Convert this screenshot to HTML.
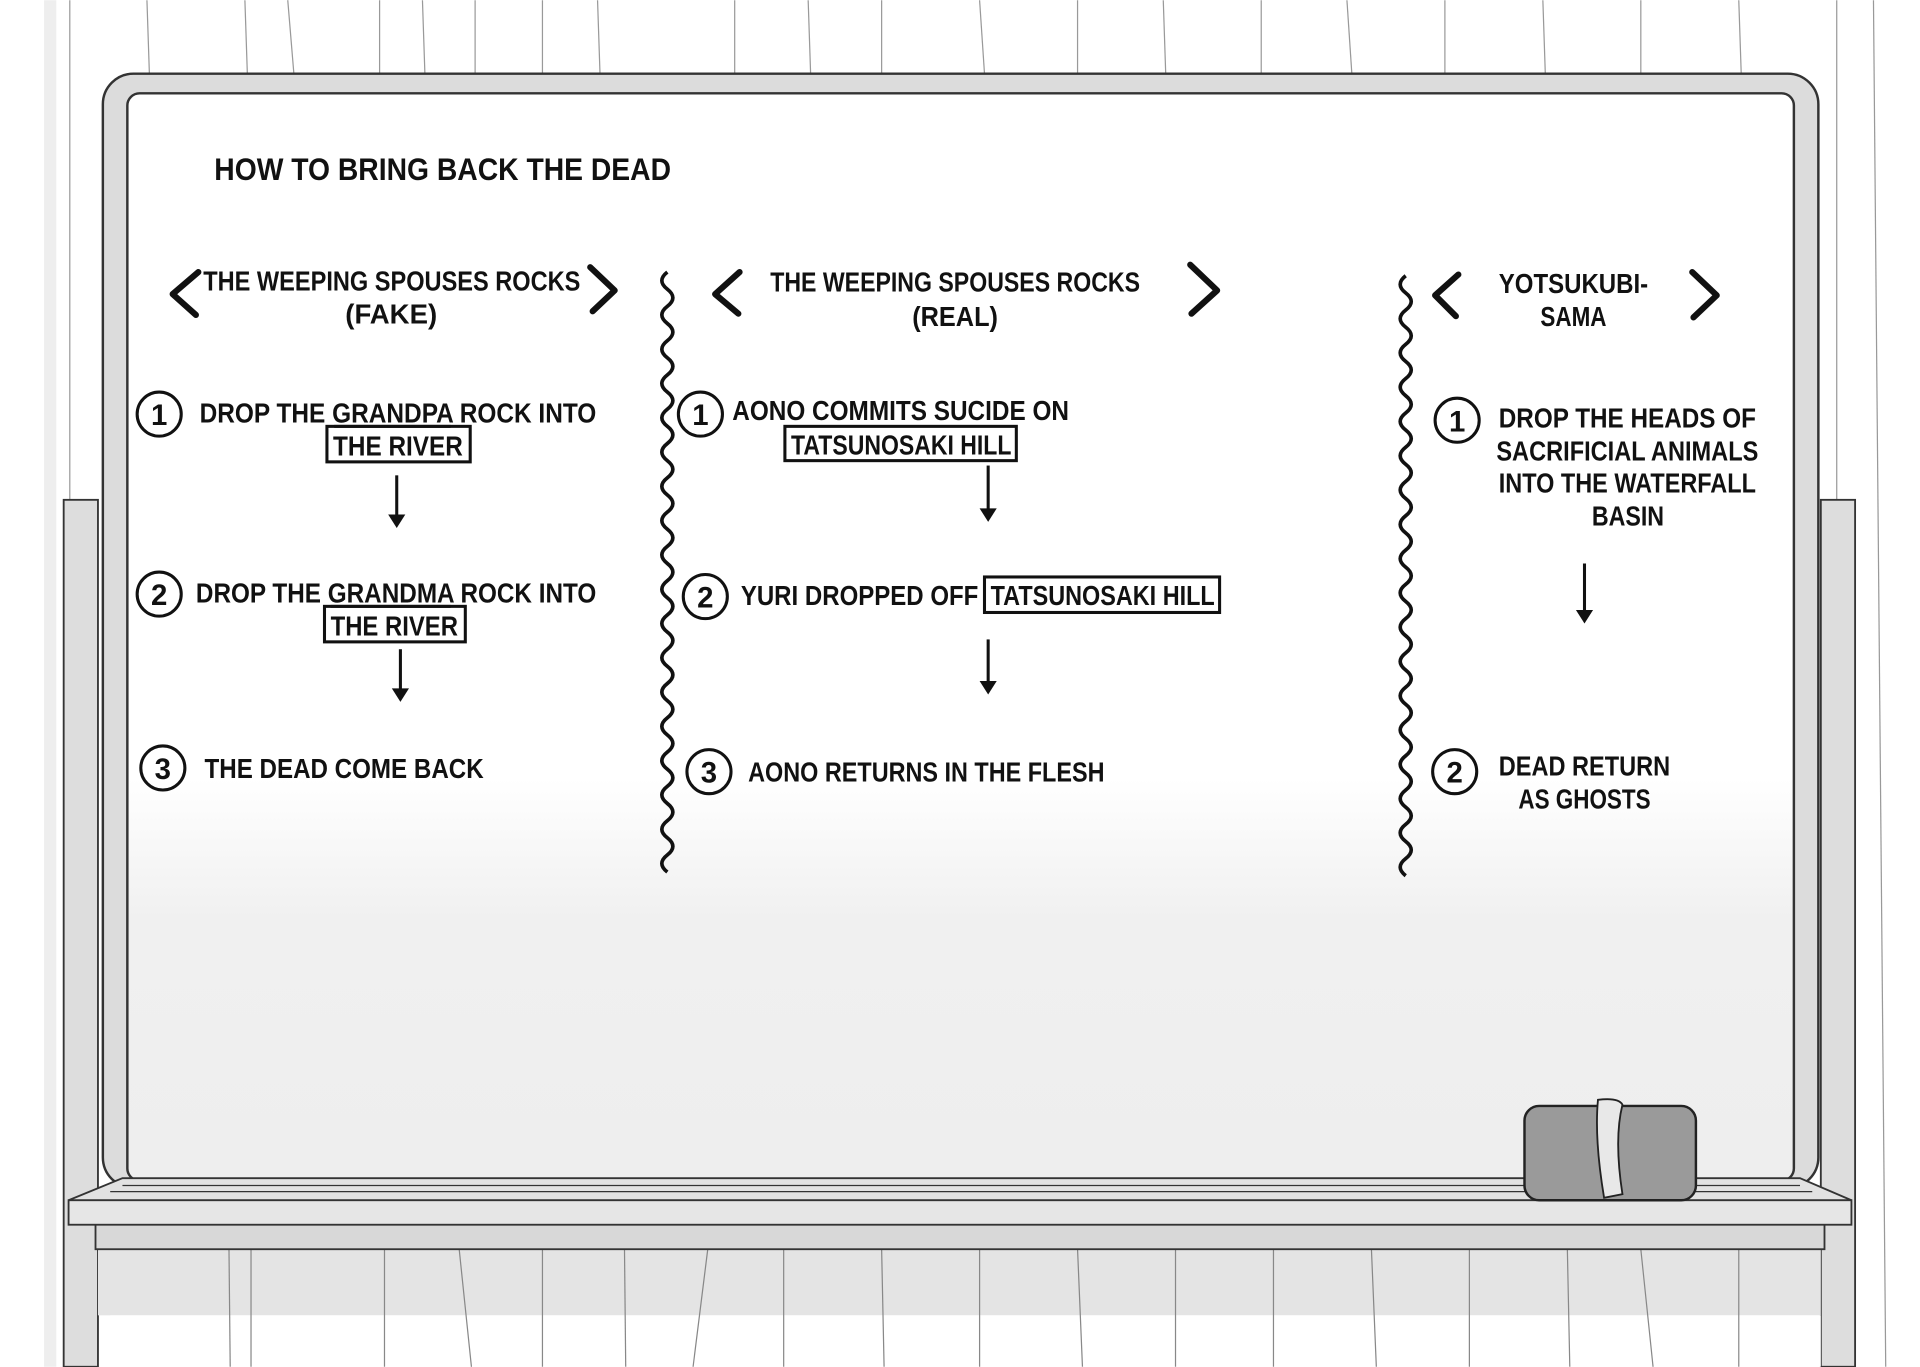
<!DOCTYPE html>
<html><head><meta charset="utf-8"><style>
html,body{margin:0;padding:0;background:#fff;}
svg{display:block;}
text{font-family:"Liberation Sans Narrow","Liberation Sans",sans-serif;font-weight:bold;fill:#111;}
</style></head><body>
<svg width="1920" height="1367" viewBox="0 0 1568 1116" xmlns="http://www.w3.org/2000/svg">
<defs>
<linearGradient id="fog" x1="0" y1="0" x2="0" y2="1">
<stop offset="0" stop-color="#ffffff"/>
<stop offset="0.63" stop-color="#ffffff"/>
<stop offset="0.76" stop-color="#f0f0f0"/>
<stop offset="1" stop-color="#eeeeee"/>
</linearGradient>
</defs>
<rect width="1568" height="1116" fill="#fff"/>
<g stroke="#999" stroke-width="1">
<line x1="57" y1="0" x2="57" y2="408"/><line x1="120" y1="0" x2="122" y2="60"/><line x1="200" y1="0" x2="202" y2="60"/>
<line x1="235" y1="0" x2="240" y2="60"/><line x1="310" y1="0" x2="310" y2="60"/><line x1="345" y1="0" x2="347" y2="60"/>
<line x1="388" y1="0" x2="388" y2="60"/><line x1="443" y1="0" x2="443" y2="60"/><line x1="488" y1="0" x2="490" y2="60"/>
<line x1="600" y1="0" x2="600" y2="60"/><line x1="660" y1="0" x2="662" y2="60"/><line x1="720" y1="0" x2="720" y2="60"/>
<line x1="800" y1="0" x2="804" y2="60"/><line x1="880" y1="0" x2="880" y2="60"/><line x1="950" y1="0" x2="952" y2="60"/>
<line x1="1030" y1="0" x2="1030" y2="60"/><line x1="1100" y1="0" x2="1104" y2="60"/><line x1="1180" y1="0" x2="1180" y2="60"/>
<line x1="1260" y1="0" x2="1262" y2="60"/><line x1="1340" y1="0" x2="1340" y2="60"/><line x1="1420" y1="0" x2="1422" y2="60"/>
<line x1="1500" y1="0" x2="1500" y2="408"/><line x1="1530" y1="0" x2="1540" y2="1116"/>
</g>
<rect x="36" y="0" width="10" height="1116" fill="#eee"/>
<rect x="52" y="408" width="28" height="708" fill="#ddd" stroke="#333" stroke-width="1.5"/>
<rect x="1487" y="408" width="28" height="708" fill="#ddd" stroke="#333" stroke-width="1.5"/>
<rect x="84" y="60" width="1401" height="910" rx="25" fill="#dcdcdc" stroke="#333" stroke-width="2"/>
<rect x="104" y="76" width="1361" height="888" rx="10" fill="url(#fog)" stroke="#333" stroke-width="2"/>
<rect x="80" y="1000" width="1407" height="74" fill="#e4e4e4"/>
<rect x="90" y="1074" width="1397" height="42" fill="#fff"/>
<g stroke="#888" stroke-width="1">
<line x1="187" y1="1020" x2="188" y2="1116"/><line x1="205" y1="1020" x2="205" y2="1116"/><line x1="314" y1="1020" x2="314" y2="1116"/>
<line x1="375" y1="1020" x2="385" y2="1116"/><line x1="443" y1="1020" x2="443" y2="1116"/><line x1="510" y1="1020" x2="511" y2="1116"/>
<line x1="578" y1="1020" x2="566" y2="1116"/><line x1="640" y1="1020" x2="640" y2="1116"/><line x1="720" y1="1020" x2="722" y2="1116"/>
<line x1="800" y1="1020" x2="800" y2="1116"/><line x1="880" y1="1020" x2="884" y2="1116"/><line x1="960" y1="1020" x2="960" y2="1116"/>
<line x1="1040" y1="1020" x2="1040" y2="1116"/><line x1="1120" y1="1020" x2="1124" y2="1116"/><line x1="1200" y1="1020" x2="1200" y2="1116"/>
<line x1="1280" y1="1020" x2="1282" y2="1116"/><line x1="1340" y1="1020" x2="1350" y2="1116"/><line x1="1420" y1="1020" x2="1420" y2="1116"/>
</g>
<rect x="78" y="998" width="1412" height="22" fill="#d8d8d8" stroke="#333" stroke-width="1.5"/>
<path d="M56 980 L100 962 L1470 962 L1512 980 Z" fill="#e2e2e2" stroke="#333" stroke-width="1.5"/>
<rect x="56" y="980" width="1456" height="20" fill="#e6e6e6" stroke="#333" stroke-width="1.5"/>
<line x1="100" y1="968" x2="1470" y2="968" stroke="#333"/>
<line x1="90" y1="973" x2="1480" y2="973" stroke="#333"/>
<rect x="1245" y="903" width="140" height="77" rx="12" fill="#9a9a9a" stroke="#222" stroke-width="2"/>
<path d="M1305 898 Q1322 896 1325 902 Q1318 930 1325 975 L1310 978 Q1302 930 1305 898 Z" fill="#e8e8e8" stroke="#222" stroke-width="1.5"/>
<text x="175" y="147" font-size="26" textLength="373" lengthAdjust="spacingAndGlyphs">HOW TO BRING BACK THE DEAD</text>
<g fill="none" stroke="#111" stroke-width="5" stroke-linecap="round" stroke-linejoin="round">
<path d="M162 222 L141 240 L160 257"/><path d="M482 218 L502 237 L484 254"/>
<path d="M604 222 L584 240 L603 256"/><path d="M972 216 L994 237 L973 256"/>
<path d="M1191 224 L1172 241 L1189 258"/><path d="M1382 222 L1402 241 L1383 259"/>
</g>
<g font-size="23">
<text x="166" y="237" textLength="308" lengthAdjust="spacingAndGlyphs">THE WEEPING SPOUSES ROCKS</text>
<text x="282" y="264" textLength="75" lengthAdjust="spacingAndGlyphs">(FAKE)</text>
<text x="163" y="345" textLength="324" lengthAdjust="spacingAndGlyphs">DROP THE GRANDPA ROCK INTO</text>
<text x="272" y="372" textLength="106" lengthAdjust="spacingAndGlyphs">THE RIVER</text>
<text x="160" y="492" textLength="327" lengthAdjust="spacingAndGlyphs">DROP THE GRANDMA ROCK INTO</text>
<text x="270" y="519" textLength="104" lengthAdjust="spacingAndGlyphs">THE RIVER</text>
<text x="167" y="635" textLength="228" lengthAdjust="spacingAndGlyphs">THE DEAD COME BACK</text>
<text x="629" y="238" textLength="302" lengthAdjust="spacingAndGlyphs">THE WEEPING SPOUSES ROCKS</text>
<text x="745" y="266" textLength="70" lengthAdjust="spacingAndGlyphs">(REAL)</text>
<text x="598" y="343" textLength="275" lengthAdjust="spacingAndGlyphs">AONO COMMITS SUCIDE ON</text>
<text x="646" y="371" textLength="180" lengthAdjust="spacingAndGlyphs">TATSUNOSAKI HILL</text>
<text x="605" y="494" textLength="194" lengthAdjust="spacingAndGlyphs">YURI DROPPED OFF</text>
<text x="809" y="494" textLength="183" lengthAdjust="spacingAndGlyphs">TATSUNOSAKI HILL</text>
<text x="611" y="638" textLength="291" lengthAdjust="spacingAndGlyphs">AONO RETURNS IN THE FLESH</text>
<text x="1224" y="239" textLength="122" lengthAdjust="spacingAndGlyphs">YOTSUKUBI-</text>
<text x="1258" y="266" textLength="54" lengthAdjust="spacingAndGlyphs">SAMA</text>
<text x="1224" y="349" textLength="210" lengthAdjust="spacingAndGlyphs">DROP THE HEADS OF</text>
<text x="1222" y="376" textLength="214" lengthAdjust="spacingAndGlyphs">SACRIFICIAL ANIMALS</text>
<text x="1224" y="402" textLength="210" lengthAdjust="spacingAndGlyphs">INTO THE WATERFALL</text>
<text x="1300" y="429" textLength="59" lengthAdjust="spacingAndGlyphs">BASIN</text>
<text x="1224" y="633" textLength="140" lengthAdjust="spacingAndGlyphs">DEAD RETURN</text>
<text x="1240" y="660" textLength="108" lengthAdjust="spacingAndGlyphs">AS GHOSTS</text>
</g>
<g fill="none" stroke="#111" stroke-width="2.5">
<circle cx="130" cy="338" r="18"/><circle cx="130" cy="485" r="18"/><circle cx="133" cy="627" r="18"/>
<circle cx="572" cy="338" r="18"/><circle cx="576" cy="487" r="18"/><circle cx="579" cy="630" r="18"/>
<circle cx="1190" cy="343" r="18"/><circle cx="1188" cy="630" r="18"/>
</g>
<g font-size="24" text-anchor="middle">
<text x="130" y="347">1</text><text x="130" y="494">2</text><text x="133" y="636">3</text>
<text x="572" y="347">1</text><text x="576" y="496">2</text><text x="579" y="639">3</text>
<text x="1190" y="352">1</text><text x="1188" y="639">2</text>
</g>
<g fill="none" stroke="#111" stroke-width="2.5">
<rect x="267" y="348" width="117" height="29"/><rect x="265" y="495" width="115" height="29"/>
<rect x="641" y="348" width="189" height="28"/><rect x="804" y="471" width="192" height="29"/>
<line x1="273" y1="348" x2="368" y2="348"/><line x1="270" y1="495" x2="368" y2="495"/>
</g>
<g stroke="#111" stroke-width="2.5">
<line x1="324" y1="388" x2="324" y2="422"/><line x1="327" y1="530" x2="327" y2="564"/>
<line x1="807" y1="380" x2="807" y2="417"/><line x1="807" y1="522" x2="807" y2="558"/>
<line x1="1294" y1="460" x2="1294" y2="500"/>
</g>
<g fill="#111">
<path d="M317 420 L331 420 L324 431 Z"/><path d="M320 562 L334 562 L327 573 Z"/>
<path d="M800 415 L814 415 L807 426 Z"/><path d="M800 556 L814 556 L807 567 Z"/>
<path d="M1287 498 L1301 498 L1294 509 Z"/>
</g>
<g fill="none" stroke="#111" stroke-width="3">
<path d="M545 222 q-9 7 0 14 q9 7 0 14 q-9 7 0 14 q9 7 0 14 q-9 7 0 14 q9 7 0 14 q-9 7 0 14 q9 7 0 14 q-9 7 0 14 q9 7 0 14 q-9 7 0 14 q9 7 0 14 q-9 7 0 14 q9 7 0 14 q-9 7 0 14 q9 7 0 14 q-9 7 0 14 q9 7 0 14 q-9 7 0 14 q9 7 0 14 q-9 7 0 14 q9 7 0 14 q-9 7 0 14 q9 7 0 14 q-9 7 0 14 q9 7 0 14 q-9 7 0 14 q9 7 0 14 q-9 7 0 14 q9 7 0 14 q-9 7 0 14 q9 7 0 14 q-9 7 0 14 q9 7 0 14 q-9 7 0 14"/>
<path d="M1148 225 q-9 7 0 14 q9 7 0 14 q-9 7 0 14 q9 7 0 14 q-9 7 0 14 q9 7 0 14 q-9 7 0 14 q9 7 0 14 q-9 7 0 14 q9 7 0 14 q-9 7 0 14 q9 7 0 14 q-9 7 0 14 q9 7 0 14 q-9 7 0 14 q9 7 0 14 q-9 7 0 14 q9 7 0 14 q-9 7 0 14 q9 7 0 14 q-9 7 0 14 q9 7 0 14 q-9 7 0 14 q9 7 0 14 q-9 7 0 14 q9 7 0 14 q-9 7 0 14 q9 7 0 14 q-9 7 0 14 q9 7 0 14 q-9 7 0 14 q9 7 0 14 q-9 7 0 14 q9 7 0 14 q-9 7 0 14"/>
</g>
</svg>
</body></html>
